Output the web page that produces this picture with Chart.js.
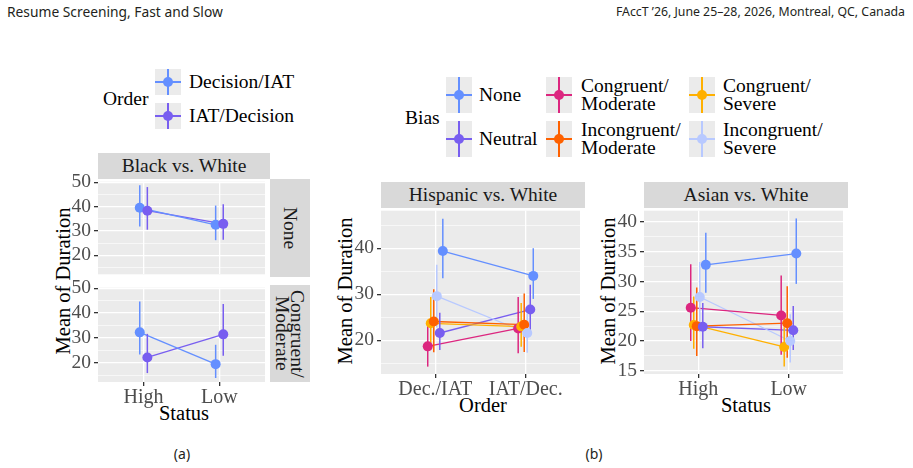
<!DOCTYPE html>
<html>
<head>
<meta charset="utf-8">
<script src="https://cdn.jsdelivr.net/npm/chart.js@4"></script>
<style>
body { margin: 0; width: 913px; height: 468px; position: relative; background: #fff; overflow: hidden; font-family: "Liberation Serif", serif; }
canvas { position: absolute; }
.t { position: absolute; white-space: nowrap; color: #000; font-size: 19.5px; }
.ax { font-size: 20.5px; }
.sans { font-family: "Noto Sans", sans-serif; font-size: 13.8px; color: #231f20; }
.strip { position: absolute; background: #d9d9d9; color: #1a1a1a; font-size: 19.5px; display: flex; align-items: center; justify-content: center; white-space: nowrap; }
.vert { writing-mode: vertical-rl; line-height: 15px; text-align: center; }
.rot { transform: translate(-50%, -50%) rotate(-90deg); }
.ctr { transform: translate(-50%, -50%); }
.key { position: absolute; background: #ebebeb; }
</style>
</head>
<body>
<div class="t sans" style="left:7px;top:2px">Resume Screening, Fast and Slow</div>
<div class="t sans" style="right:8px;top:3px;font-size:12.3px">FAccT ’26, June 25–28, 2026, Montreal, QC, Canada</div>
<div class="t sans ctr" style="left:182px;top:453px;font-size:14px">(a)</div>
<div class="t sans ctr" style="left:594px;top:453px;font-size:14px">(b)</div>

<div class="strip" style="left:98px;top:153px;width:172px;height:26px">Black vs. White</div>
<div class="strip" style="left:270px;top:179px;width:40px;height:98px"><span class="vert">None</span></div>
<div class="strip" style="left:270px;top:285px;width:40px;height:97px"><span class="vert">Congruent/<br>Moderate</span></div>
<div class="strip" style="left:381px;top:182px;width:204px;height:26px">Hispanic vs. White</div>
<div class="strip" style="left:644px;top:182px;width:204px;height:26px">Asian vs. White</div>

<div class="t ax rot" style="left:63px;top:281px">Mean of Duration</div>
<div class="t ax ctr" style="left:184px;top:413px">Status</div>
<div class="t ax rot" style="left:345px;top:291px">Mean of Duration</div>
<div class="t ax ctr" style="left:483px;top:405px">Order</div>
<div class="t ax rot" style="left:608px;top:291px">Mean of Duration</div>
<div class="t ax ctr" style="left:746px;top:405px">Status</div>

<div id="legends"></div>

<canvas id="bwNone" width="230" height="122" style="left:40px;top:167px"></canvas>
<canvas id="bwCongMod" width="230" height="135" style="left:40px;top:273px"></canvas>
<canvas id="hisp" width="264" height="204" style="left:321px;top:196px"></canvas>
<canvas id="asian" width="264" height="204" style="left:584px;top:196px"></canvas>

<script>
// categories and groups
var statusLabels = ['High', 'Low'];
var orderLabels = ['Dec./IAT', 'IAT/Dec.'];
var orderGroups = ['Decision/IAT', 'IAT/Decision'];
var orderColors = ['#648FFF', '#785EF0'];
var biasGroups = ['Congruent/Moderate', 'Congruent/Severe', 'Incongruent/Moderate', 'Incongruent/Severe', 'Neutral', 'None'];
var biasColors = ['#DC267F', '#FFB000', '#FE6100', '#B8C9FF', '#785EF0', '#648FFF'];
var biasLegendOrder = ['None', 'Neutral', 'Congruent/Moderate', 'Incongruent/Moderate', 'Congruent/Severe', 'Incongruent/Severe'];

// (a) Black vs. White -- rows follow orderGroups, columns follow statusLabels
var bwNoneMean = [[39.5, 32.5], [38.3, 32.9]];
var bwNoneLow = [[31.8, 26.2], [30.5, 26.4]];
var bwNoneHigh = [[48.7, 40.4], [48.0, 40.9]];
var bwCongModMean = [[32.2, 19.4], [22.1, 31.4]];
var bwCongModLow = [[23.3, 13.8], [15.8, 22.8]];
var bwCongModHigh = [[44.6, 27.2], [31.6, 43.6]];

// (b) rows follow biasGroups
var hispMean = [[18.7, 22.6], [23.7, 23.0], [24.1, 23.4], [29.6, 21.6], [21.6, 26.7], [39.4, 34.0]];
var hispLow = [[14.3, 17.2], [18.0, 18.6], [17.4, 17.5], [22.8, 17.3], [17.9, 21.0], [33.5, 29.0]];
var hispHigh = [[23.2, 29.4], [29.4, 28.1], [31.1, 30.2], [36.4, 25.8], [26.0, 32.1], [46.4, 40.0]];
var asianMean = [[25.6, 24.3], [22.7, 19.0], [22.5, 23.0], [27.4, 20.0], [22.4, 21.8], [32.8, 34.7]];
var asianLow = [[20.0, 17.7], [18.7, 15.7], [17.5, 17.2], [21.5, 16.4], [18.8, 18.5], [28.1, 29.6]];
var asianHigh = [[32.9, 31.0], [27.5, 22.3], [29.0, 29.2], [33.3, 24.5], [26.4, 25.9], [38.2, 40.6]];

// tick values
var bwTicks = [20, 30, 40, 50];
var bwMinor = [15, 25, 35, 45];
var hispTicks = [20, 30, 40];
var hispMinor = [15, 25, 35, 45];
var asianTicks = [15, 20, 25, 30, 35, 40];
var asianMinor = [17.5, 22.5, 27.5, 32.5, 37.5];

var dodgeWidth = 0.2;
Chart.defaults.font.family = '"Liberation Serif", serif';

var panelBg = {
    id: 'panelBg',
    beforeDraw(chart) {
        var a = chart.chartArea, c = chart.ctx;
        c.save();
        c.fillStyle = '#EBEBEB';
        c.fillRect(a.left, a.top, a.right - a.left, a.bottom - a.top);
        c.restore();
    }
};

// error bars go under all the points, above the lines
var errorBars = {
    id: 'errorBars',
    beforeDatasetsDraw(chart) { chart.$errDone = false; },
    beforeDatasetDraw(chart, args) {
        var ds = chart.data.datasets[args.index];
        if (!ds.errLow || chart.$errDone) return;
        chart.$errDone = true;
        var c = chart.ctx, xs = chart.scales.x, ys = chart.scales.y;
        c.save();
        c.lineWidth = 1.5;
        chart.data.datasets.forEach(d => {
            if (!d.errLow) return;
            c.strokeStyle = d.pointBackgroundColor;
            d.data.forEach((p, i) => {
                var px = xs.getPixelForValue(p.x);
                c.beginPath();
                c.moveTo(px, ys.getPixelForValue(d.errLow[i]));
                c.lineTo(px, ys.getPixelForValue(d.errHigh[i]));
                c.stroke();
            });
        });
        c.restore();
    }
};

function makePanel(id, cfg) {
    var n = cfg.groups.length;
    var offs = cfg.groups.map((g, i) => (i - (n - 1) / 2) * dodgeWidth / n);
    var datasets = [];
    cfg.groups.forEach((g, i) => {
        var pts = cfg.mean[i].map((v, j) => ({x: j + 1 + offs[i], y: v}));
        datasets.push({label: g, data: pts, showLine: true, borderColor: cfg.colors[i], borderWidth: 1.3, pointRadius: 0, order: 100});
        datasets.push({label: g, data: pts, showLine: false, pointRadius: 5, pointBackgroundColor: cfg.colors[i],
            backgroundColor: cfg.colors[i], pointBorderWidth: 0, borderWidth: 0,
            errLow: cfg.low[i], errHigh: cfg.high[i], order: 50 - i});
    });
    var isMajor = v => cfg.major.indexOf(v) >= 0;
    return new Chart(document.getElementById(id), {
        type: 'scatter',
        data: {datasets: datasets},
        plugins: [panelBg, errorBars],
        options: {
            responsive: false,
            animation: false,
            devicePixelRatio: 1,
            events: [],
            layout: {padding: {top: 12, left: 0, right: 0, bottom: cfg.showX ? 0 : 12}},
            plugins: {legend: {display: false}, tooltip: {enabled: false}},
            scales: {
                x: {
                    type: 'linear', min: 0.4, max: 2.6,
                    afterBuildTicks: s => { s.ticks = [{value: 1}, {value: 2}]; },
                    afterFit: s => { s.height = cfg.showX ? 26 : 0; },
                    ticks: {display: cfg.showX, callback: v => cfg.xLabels[v - 1], color: '#4D4D4D',
                        font: {size: 20}, padding: 0, maxRotation: 0, autoSkip: false},
                    grid: {color: '#fff', lineWidth: 1.3, drawTicks: cfg.showX, tickLength: 4, tickColor: '#333'},
                    border: {display: false}
                },
                y: {
                    type: 'linear', min: cfg.yMin, max: cfg.yMax,
                    afterBuildTicks: s => {
                        s.ticks = cfg.major.concat(cfg.minor).sort((a, b) => a - b).map(v => ({value: v}));
                    },
                    afterFit: s => { s.width = cfg.axisWidth; },
                    ticks: {callback: v => isMajor(v) ? String(v) : '', color: '#4D4D4D', font: {size: 19.5}, padding: 3, autoSkip: false},
                    grid: {
                        color: '#fff',
                        lineWidth: c => (c.tick && isMajor(c.tick.value)) ? 1.3 : 0.6,
                        tickLength: 4,
                        tickColor: c => (c.tick && isMajor(c.tick.value)) ? '#333' : 'rgba(0,0,0,0)'
                    },
                    border: {display: false}
                }
            }
        }
    });
}

makePanel('bwNone', {groups: orderGroups, colors: orderColors, mean: bwNoneMean, low: bwNoneLow, high: bwNoneHigh,
    xLabels: statusLabels, showX: false, yMin: 12.2, yMax: 50.2, major: bwTicks, minor: bwMinor, axisWidth: 58});
makePanel('bwCongMod', {groups: orderGroups, colors: orderColors, mean: bwCongModMean, low: bwCongModLow, high: bwCongModHigh,
    xLabels: statusLabels, showX: true, yMin: 12.2, yMax: 50.2, major: bwTicks, minor: bwMinor, axisWidth: 58});
makePanel('hisp', {groups: biasGroups, colors: biasColors, mean: hispMean, low: hispLow, high: hispHigh,
    xLabels: orderLabels, showX: true, yMin: 12.7, yMax: 48.15, major: hispTicks, minor: hispMinor, axisWidth: 60});
makePanel('asian', {groups: biasGroups, colors: biasColors, mean: asianMean, low: asianLow, high: asianHigh,
    xLabels: statusLabels, showX: true, yMin: 14.46, yMax: 41.9, major: asianTicks, minor: asianMinor, axisWidth: 60});

// legends
function keyGlyph(color, left, top, w, h) {
    return '<div class="key" style="left:' + left + 'px;top:' + top + 'px;width:' + w + 'px;height:' + h + 'px">' +
        '<div style="position:absolute;left:' + (w / 2 - 0.75) + 'px;top:0;width:1.5px;height:' + h + 'px;background:' + color + '"></div>' +
        '<div style="position:absolute;left:0;top:' + (h / 2 - 0.75) + 'px;width:' + w + 'px;height:1.5px;background:' + color + '"></div>' +
        '<div style="position:absolute;left:' + (w / 2 - 5) + 'px;top:' + (h / 2 - 5) + 'px;width:10px;height:10px;border-radius:50%;background:' + color + '"></div></div>';
}
function label(text, left, cy) {
    var lines = text.split('\n');
    var lh = 18.3;
    return '<div class="t" style="left:' + left + 'px;top:' + (cy - lines.length * lh / 2) + 'px;line-height:' + lh + 'px">' + lines.join('<br>') + '</div>';
}
var html = '';
html += label('Order', 103, 99);
orderGroups.forEach((g, i) => {
    var top = [69, 103][i];
    html += keyGlyph(orderColors[i], 155, top, 26, 26);
    html += label(g, 189, top + 13);
});
html += label('Bias', 405, 118);
biasLegendOrder.forEach((g, k) => {
    var col = Math.floor(k / 2), row = k % 2;
    var left = [446, 546, 689][col], top = [77, 121][row];
    var color = biasColors[biasGroups.indexOf(g)];
    html += keyGlyph(color, left, top, 26, 36);
    html += label(g.replace('/', '/\n'), [479, 581, 723][col], top + 18);
});
document.getElementById('legends').innerHTML = html;
</script>
</body>
</html>
